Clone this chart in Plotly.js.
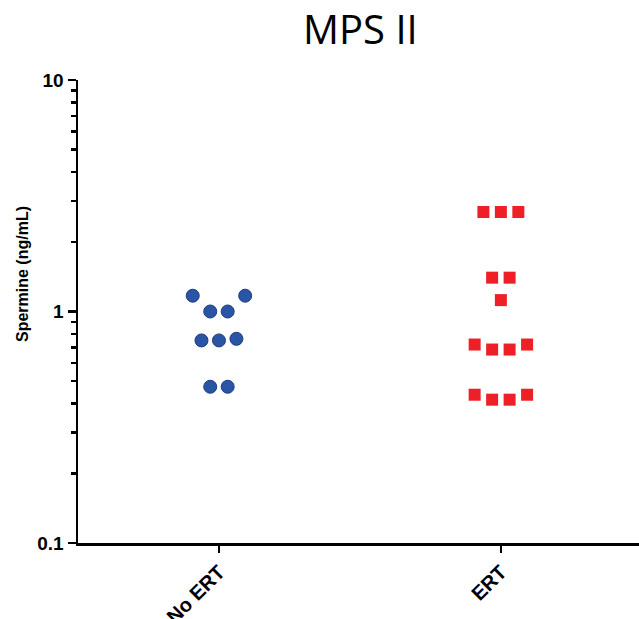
<!DOCTYPE html>
<html>
<head>
<meta charset="utf-8">
<script src="https://cdn.plot.ly/plotly-3.0.1.min.js"></script>
<style>
html,body{margin:0;padding:0;background:#fff;}
#chart{width:639px;height:619px;}
</style>
</head>
<body>
<div id="chart"></div>
<script>
// ---- data ----
const categories = ['No ERT', 'ERT'];
const noErtValues = [1.17, 1.0, 1.0, 1.17, 0.75, 0.75, 0.762, 0.473, 0.473];
const ertValues = [2.69, 2.69, 2.69, 1.40, 1.40, 1.12, 0.72, 0.685, 0.685, 0.72, 0.437, 0.416, 0.416, 0.437];
const yTickVals = [0.1, 1, 10];
const yTickText = ['0.1', '1', '10'];
const yMinorVals = [0.2,0.3,0.4,0.5,0.6,0.7,0.8,0.9,2,3,4,5,6,7,8,9];
const yTitle = 'Spermine (ng/mL)';
const chartTitle = 'MPS II';

// ---- beeswarm-style horizontal spread (rows of points with near-equal values) ----
function spread(values, center, step, thresholdDecades) {
  const xs = new Array(values.length);
  let start = 0;
  for (let i = 1; i <= values.length; i++) {
    const newRow = i === values.length ||
      Math.abs(Math.log10(values[i]) - Math.log10(values[i - 1])) > thresholdDecades;
    if (newRow) {
      const n = i - start;
      for (let k = 0; k < n; k++) xs[start + k] = center + (k - (n - 1) / 2) * step;
      start = i;
    }
  }
  return xs;
}
const STEP = 0.062;
const ROW_BAND = 0.08;

const traces = [
  {
    type: 'scatter', mode: 'markers', name: categories[0],
    x: spread(noErtValues, 0, STEP, ROW_BAND), y: noErtValues,
    marker: {symbol: 'circle', size: 13, color: '#2a55a5', line: {color: '#1b3c80', width: 1}},
    cliponaxis: false, hoverinfo: 'y'
  },
  {
    type: 'scatter', mode: 'markers', name: categories[1],
    x: spread(ertValues, 1, STEP, ROW_BAND), y: ertValues,
    marker: {symbol: 'square', size: 12, color: '#ee1f26', line: {width: 0}},
    cliponaxis: false, hoverinfo: 'y'
  }
];

const boldFont = 'Arial, Liberation Sans, sans-serif';

const layout = {
  width: 639, height: 619,
  margin: {l: 78, r: 0, t: 80, b: 76},
  paper_bgcolor: '#fff', plot_bgcolor: '#fff',
  showlegend: false,
  title: {
    text: chartTitle,
    font: {family: 'Open Sans, sans-serif', size: 40, color: '#000'},
    x: 0.564, xanchor: 'center', y: 0.952, yanchor: 'middle'
  },
  xaxis: {
    range: [-0.5, 1.49],
    tickmode: 'array', tickvals: [0, 1], ticktext: categories,
    tickangle: -45,
    ticks: 'outside', ticklen: 7, tickwidth: 2.5, tickcolor: '#000',
    showline: true, linecolor: '#000', linewidth: 2.5,
    showgrid: false, zeroline: false,
    tickfont: {family: boldFont, size: 20, color: '#000', weight: 'bold'}
  },
  yaxis: {
    type: 'log',
    range: [-1, 1],
    tickmode: 'array', tickvals: yTickVals, ticktext: yTickText,
    ticks: 'outside', ticklen: 8, tickwidth: 2.5, tickcolor: '#000',
    minor: {tickmode: 'array', tickvals: yMinorVals, ticks: 'outside', ticklen: 5, tickwidth: 2.5, tickcolor: '#000', showgrid: false},
    showline: true, linecolor: '#000', linewidth: 2.5,
    showgrid: false, zeroline: false,
    tickfont: {family: boldFont, size: 19, color: '#000', weight: 'bold'}
  },
  annotations: [{
    text: yTitle, textangle: -90,
    xref: 'paper', yref: 'paper',
    x: (23 - 78) / 561, y: 0.581,
    xanchor: 'center', yanchor: 'middle', showarrow: false,
    font: {family: boldFont, size: 16, color: '#000', weight: 'bold'}
  }]
};

Plotly.newPlot('chart', traces, layout, {displayModeBar: false, staticPlot: true});
</script>
</body>
</html>
